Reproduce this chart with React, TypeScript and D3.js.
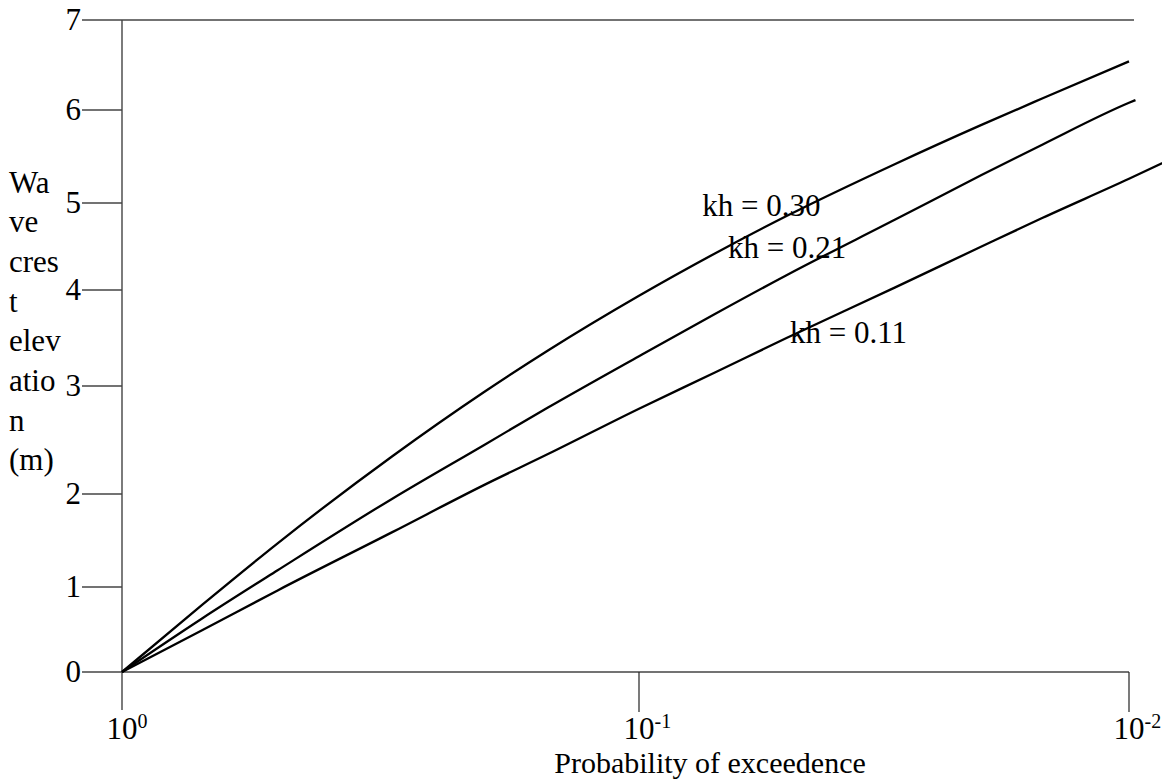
import React from 'react';
import * as d3 from 'd3';

// probability of exceedence (x, log) and crest elevation in m (y)
const probs = [1, 0.7, 0.5, 0.3, 0.2, 0.15, 0.1, 0.07, 0.05, 0.03, 0.02, 0.015, 0.01];
const kh030 = [0, 0.79, 1.47, 2.35, 2.94, 3.37, 3.94, 4.42, 4.85, 5.42, 5.84, 6.13, 6.54];
const kh021 = [0, 0.63, 1.18, 1.95, 2.45, 2.8, 3.31, 3.75, 4.17, 4.81, 5.3, 5.63, 6.08];
const kh011 = [0, 0.49, 0.96, 1.59, 2.08, 2.37, 2.79, 3.14, 3.5, 4.03, 4.5, 4.83, 5.26];

// small extension past the last tick (p, value), null where the line stops at 10^-2
const tails: ([number, number] | null)[] = [null, [0.0097, 6.11], [0.008, 5.5]];

const seriesLabels = ['kh = 0.30', 'kh = 0.21', 'kh = 0.11'];
const labelP = [0.0743, 0.0658, 0.0492];
const labelV = [4.85, 4.37, 3.45];

const yTicks = [0, 1, 2, 3, 4, 5, 6, 7];
const xTicks = [1, 0.1, 0.01];
const xTickExp = ['0', '-1', '-2'];
const yTitle = ['Wa', 've', 'cres', 't', 'elev', 'atio', 'n', '(m)'];

const W = 1162;
const H = 780;
const font = "'Liberation Serif', 'Times New Roman', Times, serif";
const fs = 31;

export default function App() {
  // the printed axes are not evenly spaced, so both scales are piecewise
  const x = d3.scaleLog().domain([1, 0.1, 0.01]).range([122, 639, 1129]);
  const y = d3.scaleLinear().domain(yTicks).range([672, 587, 494, 386, 290, 203, 110, 20]);

  const line = d3
    .line<[number, number]>()
    .x(d => x(d[0]))
    .y(d => y(d[1]))
    .curve(d3.curveMonotoneX);

  const series = [kh030, kh021, kh011].map((vals, i) => {
    const pts: [number, number][] = probs.map((p, j) => [p, vals[j]]);
    const t = tails[i];
    if (t) pts.push(t);
    return pts;
  });

  const x0 = x(1);
  const y0 = y(0);
  const tickLeft = x0 - 40;

  return (
    <svg
      width={W}
      height={H}
      style={{ position: 'absolute', left: 0, top: 0, background: '#fff', fontFamily: font }}
    >
      {/* y ticks; the top one runs across as a frame line */}
      {yTicks.map(t => (
        <g key={t}>
          <line
            x1={tickLeft}
            x2={t === 7 ? 1134 : t === 0 ? x(0.01) : x0}
            y1={y(t)}
            y2={y(t)}
            stroke="#444"
            strokeWidth={1.4}
          />
          <text x={tickLeft - 1} y={y(t) + 10} textAnchor="end" fontSize={fs} fill="#000">
            {t}
          </text>
        </g>
      ))}

      {/* y axis, reaching below the x axis as the 10^0 tick */}
      <line x1={x0} x2={x0} y1={y(7)} y2={y0 + 38} stroke="#444" strokeWidth={1.4} />

      {/* x ticks */}
      {xTicks.map((p, i) => (
        <g key={p}>
          {i > 0 && (
            <line x1={x(p)} x2={x(p)} y1={y0} y2={y0 + 40} stroke="#222" strokeWidth={1.2} />
          )}
          <text x={x(p) - 15.5} y={739} fontSize={fs} fill="#000">
            10
            <tspan dy={-11} fontSize={20}>
              {xTickExp[i]}
            </tspan>
          </text>
        </g>
      ))}

      <text x={710} y={773} textAnchor="middle" fontSize={30} fill="#000">
        Probability of exceedence
      </text>

      {yTitle.map((s, i) => (
        <text key={i} x={9} y={192.5 + i * 39.7} fontSize={fs} fill="#000">
          {s}
        </text>
      ))}

      {series.map((pts, i) => (
        <path key={i} d={line(pts) || ''} fill="none" stroke="#000" strokeWidth={2.3} />
      ))}

      {seriesLabels.map((s, i) => (
        <text key={s} x={x(labelP[i])} y={y(labelV[i])} fontSize={fs} fill="#000">
          {s}
        </text>
      ))}
    </svg>
  );
}
